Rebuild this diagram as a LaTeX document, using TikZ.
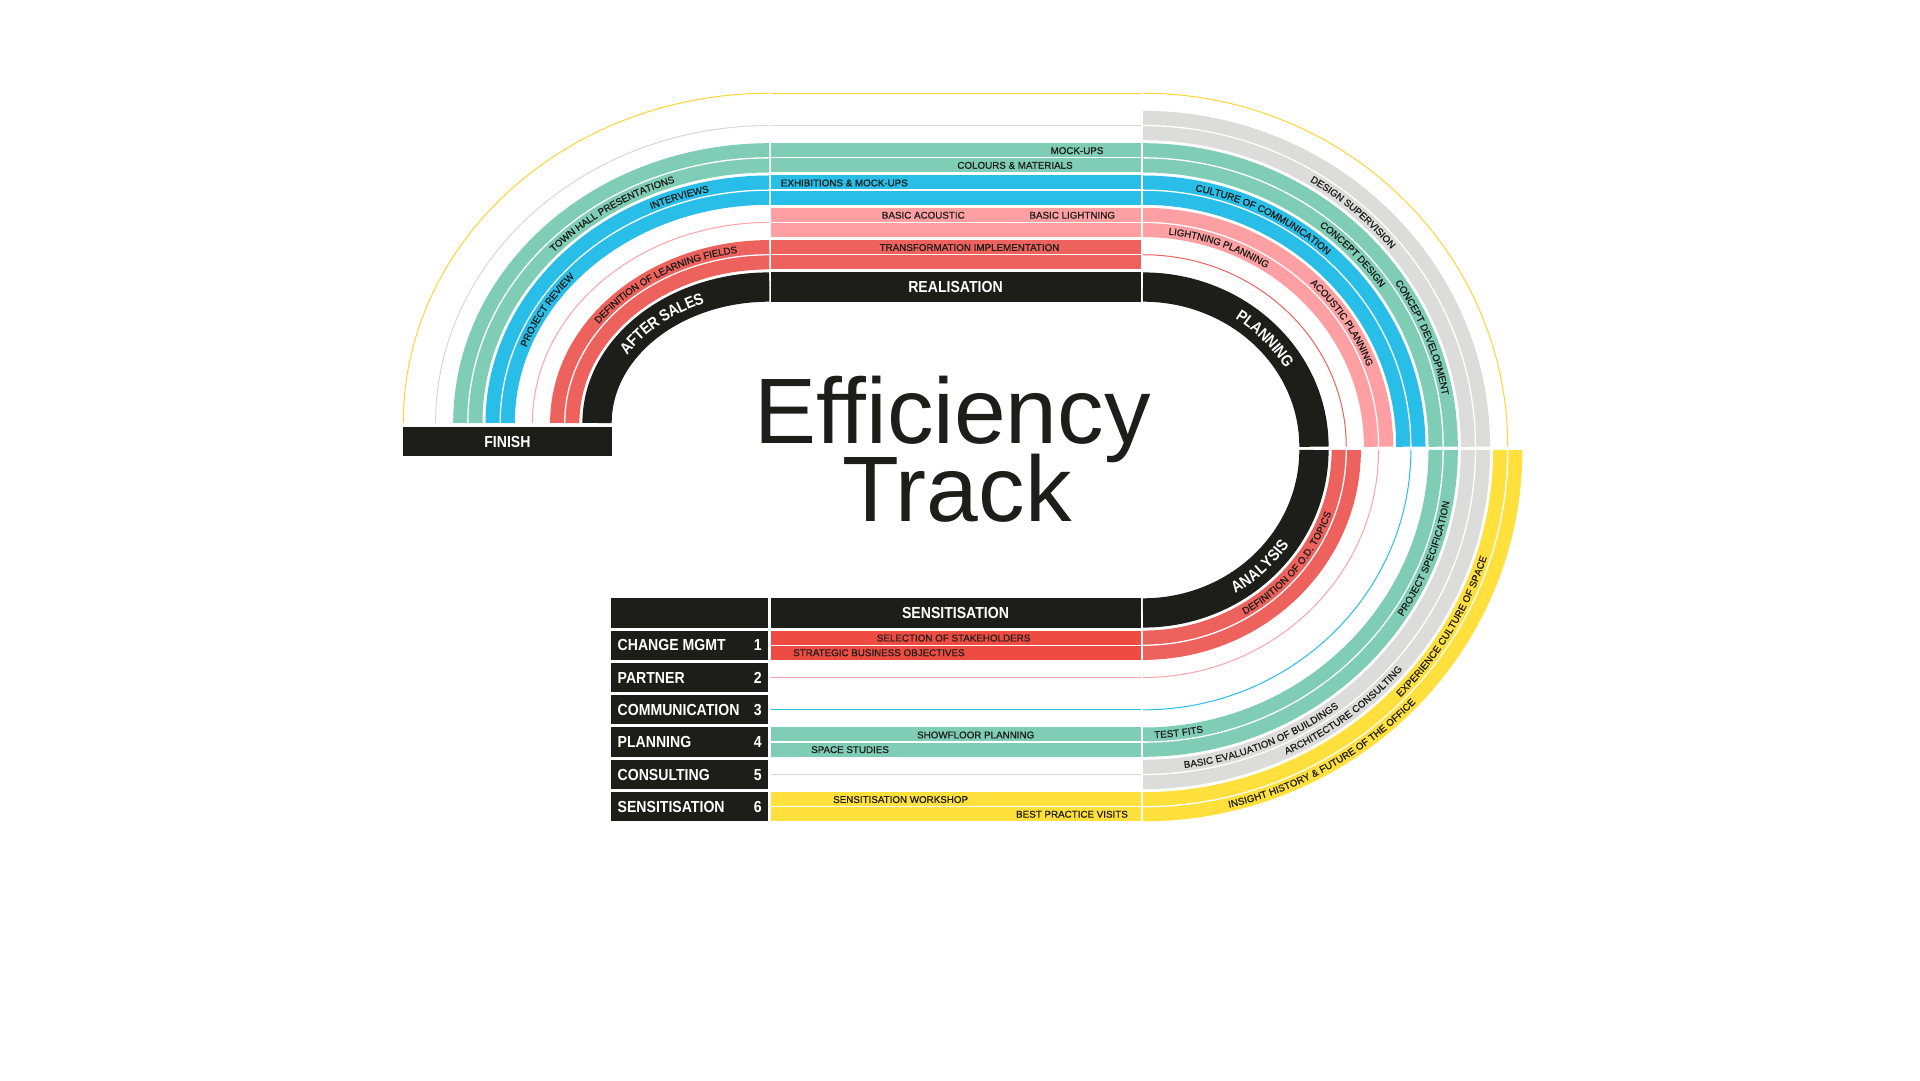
\documentclass[tikz,border=0pt]{standalone}
\usepackage{fontspec}
\setmainfont{Liberation Sans}
\usetikzlibrary{decorations.text}
\newfontfamily\lblfont[FakeBold=0.7]{Liberation Sans}
\newfontfamily\phasefont[FakeStretch=0.88]{Liberation Sans}
\newfontfamily\titlefam[Ligatures=CommonOff]{Liberation Sans}
\newcommand\smalllbl{\lblfont\fontsize{9.8}{10}\selectfont}
\newcommand\biglbl{\phasefont\bfseries\fontsize{16}{16}\selectfont}
\newcommand\titlefnt{\titlefam\fontsize{93}{93}\selectfont}
\definecolor{tkblack}{HTML}{1D1D1A}
\definecolor{tkgreen}{HTML}{80CDB6}
\definecolor{tkblue}{HTML}{28BEE8}
\definecolor{tkpink}{HTML}{FE9FA3}
\definecolor{tkred}{HTML}{EE625D}
\definecolor{tkredB}{HTML}{EE4C43}
\definecolor{tkgray}{HTML}{DCDCDA}
\definecolor{tkyellow}{HTML}{FFE03D}
\definecolor{tkyline}{HTML}{FDD535}
\definecolor{tkgline}{HTML}{D8D8D6}
\definecolor{tkpline}{HTML}{FCA4A8}
% elliptic lane pieces: cx cy a b t1 t2 (colour)
\newcommand\EBand[7]{%
  \draw[line width=29.3pt,#7] ({#1+#3*cos(#5)},{#2+#4*sin(#5)}) arc[start angle=#5,end angle=#6,x radius=#3,y radius=#4];
  \draw[line width=1.3pt,white] ({#1+#3*cos(#5)},{#2+#4*sin(#5)}) arc[start angle=#5,end angle=#6,x radius=#3,y radius=#4];}
\newcommand\EBlk[6]{%
  \draw[line width=29.3pt,tkblack] ({#1+#3*cos(#5)},{#2+#4*sin(#5)}) arc[start angle=#5,end angle=#6,x radius=#3,y radius=#4];}
\newcommand\EThin[7]{%
  \draw[line width=1pt,#7] ({#1+#3*cos(#5)},{#2+#4*sin(#5)}) arc[start angle=#5,end angle=#6,x radius=#3,y radius=#4];}
% straight lane pieces: x1 x2 Ycentre colour
\newcommand\SBand[4]{%
  \fill[#4] ({#1},{#3-14.65}) rectangle ({#2},{#3+14.65});
  \draw[white,line width=1.3pt] ({#1},{#3}) -- ({#2},{#3});}
\newcommand\SThin[4]{%
  \draw[#4,line width=1pt] ({#1},{#3}) -- ({#2},{#3});}
% text on an elliptic arc: cx cy a b t1 t2 raise text
\newcommand\ArcTxt[8]{%
  \path[decorate,decoration={text along path,text align=center,raise=#7,text={#8}}]
    ({#1+#3*cos(#5)},{#2+#4*sin(#5)}) arc[start angle=#5,end angle=#6,x radius=#3,y radius=#4];}
\begin{document}
\begin{tikzpicture}[x=1pt,y=1pt,
  phase/.style={font=\biglbl,text=white,inner sep=0pt},
  small/.style={font=\smalllbl,text=tkblack,inner sep=0pt},
  titletxt/.style={font=\titlefnt,text=tkblack,inner sep=0pt}]
\useasboundingbox (0,0) rectangle (1920,1080);
\fill[white] (0,0) rectangle (1920,1080);

% ---------- left arc (after sales) ----------
\EBlk{769.3}{657}{172.25}{135.95}{90}{180}
\EBand{769.3}{657}{204.55}{168.25}{90}{180}{tkred}
\EThin{769.3}{657}{236.85}{200.55}{90}{180}{tkpline}
\EBand{769.3}{657}{269.15}{232.85}{90}{180}{tkblue}
\EBand{769.3}{657}{301.45}{265.15}{90}{180}{tkgreen}
\EThin{769.3}{657}{333.75}{297.45}{90}{180}{tkgline}
\EThin{769.3}{657}{366.05}{329.75}{90}{180}{tkyline}

% ---------- upper straight (realisation) ----------
\fill[tkblack] (771.2,778.3) rectangle (1140.5,807.6);
\SBand{771.2}{1140.5}{825.25}{tkred}
\SBand{771.2}{1140.5}{857.55}{tkpink}
\SBand{771.2}{1140.5}{889.85}{tkblue}
\SBand{771.2}{1140.5}{922.15}{tkgreen}
\SThin{771.2}{1140.5}{954.45}{tkgline}
\SThin{771.2}{1140.5}{986.75}{tkyline}

% ---------- upper right arc (planning) ----------
\EBlk{1143}{633.3}{170.95}{159.65}{90}{0}
\EThin{1143}{633.3}{203.25}{191.95}{90}{0}{tkred}
\EBand{1143}{633.3}{235.55}{224.25}{90}{0}{tkpink}
\EBand{1143}{633.3}{267.85}{256.55}{90}{0}{tkblue}
\EBand{1143}{633.3}{300.15}{288.85}{90}{0}{tkgreen}
\EBand{1143}{633.3}{332.45}{321.15}{90}{0}{tkgray}
\EThin{1143}{633.3}{364.75}{353.45}{90}{0}{tkyline}

% ---------- lower right arc (analysis) ----------
\EBlk{1143}{630}{170.95}{162.95}{270}{360}
\EBand{1143}{630}{203.25}{195.25}{270}{360}{tkred}
\EThin{1143}{630}{235.55}{227.55}{270}{360}{tkpline}
\EThin{1143}{630}{267.85}{259.85}{270}{360}{tkblue}
\EBand{1143}{630}{300.15}{292.15}{270}{360}{tkgreen}
\EBand{1143}{630}{332.45}{324.45}{270}{360}{tkgray}
\EBand{1143}{630}{364.75}{356.75}{270}{360}{tkyellow}

% ---------- lower straight (sensitisation) ----------
\fill[tkblack] (771,452.4) rectangle (1140.5,481.7);
\SBand{771}{1140.5}{434.75}{tkredB}
\SThin{771}{1140.5}{402.45}{tkpline}
\SThin{771}{1140.5}{370.15}{tkblue}
\SBand{771}{1140.5}{337.85}{tkgreen}
\SThin{771}{1140.5}{305.55}{tkgline}
\SBand{771}{1140.5}{273.25}{tkyellow}

% ---------- legend boxes ----------
\fill[tkblack] (611,452.4) rectangle (768.3,481.7);
\fill[tkblack] (611,420.1) rectangle (768.3,449.4);
\fill[tkblack] (611,387.8) rectangle (768.3,417.1);
\fill[tkblack] (611,355.5) rectangle (768.3,384.8);
\fill[tkblack] (611,323.2) rectangle (768.3,352.5);
\fill[tkblack] (611,290.9) rectangle (768.3,320.2);
\fill[tkblack] (611,258.6) rectangle (768.3,287.9);
\node[phase,anchor=base west] (rowA) at (617.5,429.02) {CHANGE MGMT};
\node[phase,anchor=base east] (numA) at (762,429.02) {1};
\node[phase,anchor=base west] (rowB) at (617.5,396.72) {PARTNER};
\node[phase,anchor=base east] (numB) at (762,396.72) {2};
\node[phase,anchor=base west] (rowC) at (617.5,364.42) {COMMUNICATION};
\node[phase,anchor=base east] (numC) at (762,364.42) {3};
\node[phase,anchor=base west] (rowD) at (617.5,332.12) {PLANNING};
\node[phase,anchor=base east] (numD) at (762,332.12) {4};
\node[phase,anchor=base west] (rowE) at (617.5,299.82) {CONSULTING};
\node[phase,anchor=base east] (numE) at (762,299.82) {5};
\node[phase,anchor=base west] (rowF) at (617.5,267.52) {SENSITISATION};
\node[phase,anchor=base east] (numF) at (762,267.52) {6};

% ---------- finish ----------
\fill[tkblack] (403.3,624) rectangle (611.5,653);
\node[phase,anchor=base] (finish) at (507.4,632.77) {FINISH};

% ---------- straight labels ----------
\node[phase,anchor=base] (realis) at (955.5,787.22) {REALISATION};
\node[small,anchor=base] (mock) at (1077,925.95) {MOCK-UPS};
\node[small,anchor=base] (colours) at (1015,911.25) {COLOURS \& MATERIALS};
\node[small,anchor=base west] (exhib) at (780.7,893.65) {EXHIBITIONS \& MOCK-UPS};
\node[small,anchor=base] (acoustic) at (923.3,861.35) {BASIC ACOUSTIC};
\node[small,anchor=base] (lightning) at (1072.2,861.35) {BASIC LIGHTNING};
\node[small,anchor=base] (transf) at (969.5,829.05) {TRANSFORMATION IMPLEMENTATION};

\node[phase,anchor=base] (sensi) at (955.5,461.32) {SENSITISATION};
\node[small,anchor=base] (select) at (953.6,438.55) {SELECTION OF STAKEHOLDERS};
\node[small,anchor=base west] (strat) at (793,423.85) {STRATEGIC BUSINESS OBJECTIVES};
\node[small,anchor=base] (showfl) at (975.7,341.65) {SHOWFLOOR PLANNING};
\node[small,anchor=base west] (space) at (811,326.95) {SPACE STUDIES};
\node[small,anchor=base west] (workshop) at (833,277.05) {SENSITISATION WORKSHOP};
\node[small,anchor=base east] (bestpr) at (1128,262.35) {BEST PRACTICE VISITS};

% ---------- title ----------
\node[titletxt,anchor=base] (effic) at (952.5,636.7) {Efficiency};
\node[titletxt,anchor=base] (track) at (957,558.3) {Track};

% ---------- arc labels: left ----------
\ArcTxt{769.3}{657}{172.25}{135.95}{167}{97}{-5.7pt}{|\biglbl\color{white}|AFTER SALES}
\ArcTxt{769.3}{657}{211.88}{175.58}{163}{83}{-3.5pt}{|\smalllbl\color{tkblack}|DEFINITION OF LEARNING FIELDS}
\ArcTxt{769.3}{657}{276.48}{240.18}{134.5}{84.5}{-3.5pt}{|\smalllbl\color{tkblack}|INTERVIEWS}
\ArcTxt{769.3}{657}{261.82}{225.52}{175}{125}{-3.5pt}{|\smalllbl\color{tkblack}|PROJECT REVIEW}
\ArcTxt{769.3}{657}{294.12}{257.82}{154}{94}{-3.5pt}{|\smalllbl\color{tkblack}|TOWN HALL PRESENTATIONS}

% ---------- arc labels: upper right ----------
\ArcTxt{1143}{633.3}{170.95}{159.65}{73}{13}{-5.7pt}{|\biglbl\color{white}|PLANNING}
\ArcTxt{1143}{633.3}{228.22}{216.92}{95}{45}{-3.5pt}{|\smalllbl\color{tkblack}|LIGHTNING PLANNING}
\ArcTxt{1143}{633.3}{242.88}{231.58}{58}{8}{-3.5pt}{|\smalllbl\color{tkblack}|ACOUSTIC PLANNING}
\ArcTxt{1143}{633.3}{275.18}{263.88}{93}{33}{-3.5pt}{|\smalllbl\color{tkblack}|CULTURE OF COMMUNICATION}
\ArcTxt{1143}{633.3}{292.82}{281.52}{68.5}{18.5}{-3.5pt}{|\smalllbl\color{tkblack}|CONCEPT DESIGN}
\ArcTxt{1143}{633.3}{307.48}{296.18}{47}{-3}{-3.5pt}{|\smalllbl\color{tkblack}|CONCEPT DEVELOPMENT}
\ArcTxt{1143}{633.3}{325.12}{313.82}{74}{24}{-3.5pt}{|\smalllbl\color{tkblack}|DESIGN SUPERVISION}

% ---------- arc labels: lower right ----------
\ArcTxt{1143}{630}{170.95}{162.95}{284}{344}{-5.7pt}{|\biglbl\color{white}|ANALYSIS}
\ArcTxt{1143}{630}{195.92}{187.92}{286}{356}{-3.5pt}{|\smalllbl\color{tkblack}|DEFINITION OF O.D. TOPICS}
\ArcTxt{1143}{630}{292.82}{284.82}{262}{292}{-3.5pt}{|\smalllbl\color{tkblack}|TEST FITS}
\ArcTxt{1143}{630}{307.48}{299.48}{311}{366}{-3.5pt}{|\smalllbl\color{tkblack}|PROJECT SPECIFICATION}
\ArcTxt{1143}{630}{325.12}{317.12}{262}{322}{-3.5pt}{|\smalllbl\color{tkblack}|BASIC EVALUATION OF BUILDINGS}
\ArcTxt{1143}{630}{339.78}{331.78}{280}{334}{-3.5pt}{|\smalllbl\color{tkblack}|ARCHITECTURE CONSULTING}
\ArcTxt{1143}{630}{372.08}{364.08}{270}{330}{-3.5pt}{|\smalllbl\color{tkblack}|INSIGHT HISTORY {\&} FUTURE OF THE OFFICE}
\ArcTxt{1143}{630}{357.42}{349.42}{300}{358}{-3.5pt}{|\smalllbl\color{tkblack}|EXPERIENCE CULTURE OF SPACE}
\end{tikzpicture}
\end{document}
